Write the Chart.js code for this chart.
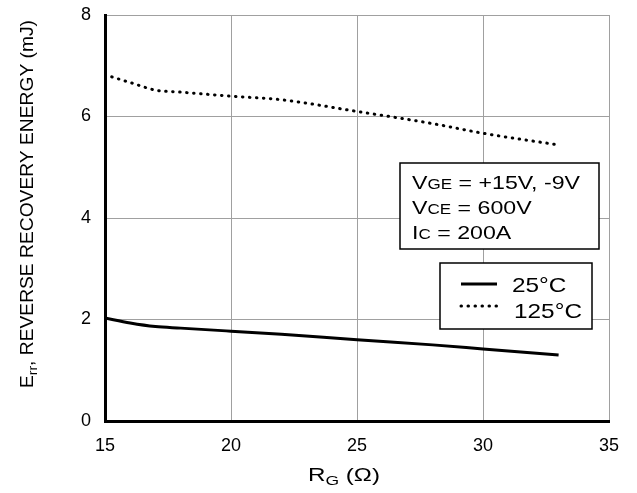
<!DOCTYPE html>
<html>
<head>
<meta charset="utf-8">
<script src="https://cdn.jsdelivr.net/npm/chart.js@4"></script>
<style>
  html, body { margin: 0; padding: 0; background: #fff; }
  canvas { display: block; }
</style>
</head>
<body>
<canvas id="errChart" width="637" height="493"></canvas>
<script>
// RG (ohm) vs reverse recovery energy (mJ)
const rg = [15, 16, 17, 18, 20, 22, 25, 28, 30, 33];
const err25 = [2.03, 1.93, 1.86, 1.83, 1.77, 1.71, 1.60, 1.50, 1.42, 1.30];
const err125 = [6.82, 6.67, 6.52, 6.48, 6.40, 6.33, 6.10, 5.86, 5.67, 5.44];
const seriesLabels = ["25°C", "125°C"];
const xTicks = [15, 20, 25, 30, 35];
const yTicks = [0, 2, 4, 6, 8];
const conditions = [
    ["V", "GE", " = +15V, -9V"],
    ["V", "CE", " = 600V"],
    ["I", "C", " = 200A"]
];

const FONT = "'Liberation Sans', Arial, Helvetica, sans-serif";

function toPoints(xs, ys) {
    return xs.map((x, i) => ({ x: x, y: ys[i] }));
}

function partsWidth(ctx, parts) {
    let w = 0;
    parts.forEach(p => { ctx.font = p.size + "px " + FONT; w += ctx.measureText(p.text).width; });
    return w;
}

// draws text made of several sized pieces, stretched horizontally by sx
function drawParts(ctx, x, y, parts, sx) {
    ctx.save();
    ctx.translate(x, y);
    ctx.scale(sx || 1, 1);
    let cx = 0;
    parts.forEach(p => {
        ctx.font = p.size + "px " + FONT;
        ctx.fillText(p.text, cx, p.dy || 0);
        cx += ctx.measureText(p.text).width;
    });
    ctx.restore();
}

const extrasPlugin = {
    id: "extras",
    afterDraw(chart) {
        const ctx = chart.ctx;
        ctx.save();
        ctx.fillStyle = "#000";
        ctx.textBaseline = "alphabetic";
        ctx.textAlign = "left";

        // x title: R_G (Ω)
        let parts = [
            { text: "R", size: 18 },
            { text: "G", size: 13, dy: 4 },
            { text: " (Ω)", size: 18 }
        ];
        let sx = 72 / partsWidth(ctx, parts);
        drawParts(ctx, 308, 481, parts, sx);

        // y title: E_rr, REVERSE RECOVERY ENERGY (mJ)
        parts = [
            { text: "E", size: 18 },
            { text: "rr", size: 13, dy: 4 },
            { text: ", REVERSE RECOVERY ENERGY (mJ)", size: 18 }
        ];
        sx = 368 / partsWidth(ctx, parts);
        ctx.save();
        ctx.translate(33, 388);
        ctx.rotate(-Math.PI / 2);
        drawParts(ctx, 0, 0, parts, sx);
        ctx.restore();

        // conditions box
        ctx.fillStyle = "#fff";
        ctx.fillRect(400, 163, 199, 86);
        ctx.strokeStyle = "#000";
        ctx.lineWidth = 1.5;
        ctx.strokeRect(400, 163, 199, 86);
        ctx.fillStyle = "#000";
        const condParts = conditions.map(c => [
            { text: c[0], size: 19 },
            { text: c[1], size: 14 },
            { text: c[2], size: 19 }
        ]);
        sx = 168 / partsWidth(ctx, condParts[0]);
        condParts.forEach((p, i) => drawParts(ctx, 412, 189 + i * 25, p, sx));

        // legend box
        ctx.fillStyle = "#fff";
        ctx.fillRect(440, 263, 152, 66);
        ctx.strokeRect(440, 263, 152, 66);
        const lgParts = chart.data.datasets.map(ds => [{ text: ds.label, size: 21 }]);
        sx = 68 / partsWidth(ctx, lgParts[1]);
        chart.data.datasets.forEach((ds, i) => {
            const y = 284 + i * 22;
            ctx.save();
            ctx.strokeStyle = ds.borderColor;
            ctx.lineWidth = ds.borderWidth;
            ctx.lineCap = ds.borderCapStyle || "butt";
            ctx.setLineDash(ds.borderDash || []);
            ctx.beginPath();
            ctx.moveTo(461, y);
            ctx.lineTo(497, y);
            ctx.stroke();
            ctx.restore();
            ctx.fillStyle = "#000";
            drawParts(ctx, i === 0 ? 512 : 514, 292 + i * 26, lgParts[i], sx);
        });
        ctx.restore();
    }
};

new Chart(document.getElementById("errChart"), {
    type: "line",
    data: {
        datasets: [
            {
                label: seriesLabels[0],
                data: toPoints(rg, err25),
                borderColor: "#000",
                borderWidth: 3,
                pointRadius: 0,
                cubicInterpolationMode: "monotone",
                fill: false
            },
            {
                label: seriesLabels[1],
                data: toPoints(rg, err125),
                borderColor: "#000",
                borderWidth: 3,
                borderDash: [0.5, 6.5],
                borderCapStyle: "round",
                pointRadius: 0,
                cubicInterpolationMode: "monotone",
                fill: false
            }
        ]
    },
    options: {
        responsive: false,
        animation: false,
        events: [],
        layout: { padding: { left: 0, right: 28, top: 15, bottom: 0 } },
        plugins: {
            legend: { display: false },
            tooltip: { enabled: false }
        },
        scales: {
            x: {
                type: "linear",
                min: 15,
                max: 35,
                afterBuildTicks: (scale) => { scale.ticks = xTicks.map(v => ({ value: v })); },
                afterFit: (scale) => { scale.height = 72; },
                grid: { color: "#a0a0a0", lineWidth: 1, drawTicks: false },
                border: { color: "#000", width: 3 },
                ticks: { color: "#000", padding: 14, font: { family: FONT, size: 18 } }
            },
            y: {
                min: 0,
                max: 8,
                afterBuildTicks: (scale) => { scale.ticks = yTicks.map(v => ({ value: v })); },
                afterFit: (scale) => {
                    scale.width = 105;
                    scale.paddingTop = 0;
                    scale.paddingBottom = 0;
                },
                grid: { color: "#a0a0a0", lineWidth: 1, drawTicks: false },
                border: { color: "#000", width: 3 },
                ticks: { color: "#000", padding: 14, font: { family: FONT, size: 18 } }
            }
        }
    },
    plugins: [extrasPlugin]
});
</script>
</body>
</html>
